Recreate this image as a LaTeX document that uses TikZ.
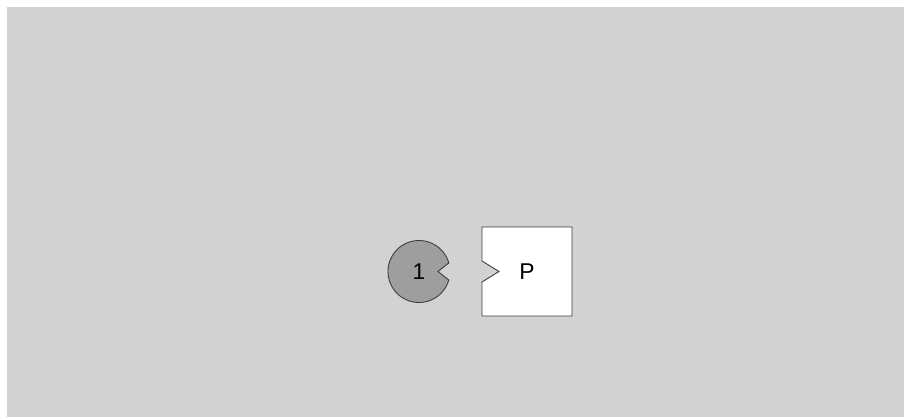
\documentclass[tikz,border=0pt]{standalone}
\usepackage{fontspec}
\setmainfont{Liberation Sans}
\definecolor{bgGray}{RGB}{210,210,210}
\definecolor{pieGray}{RGB}{158,158,158}
\definecolor{edgeGray}{RGB}{60,60,60}
\begin{document}
\begin{tikzpicture}[scale=1.0]
    \useasboundingbox (0,0) rectangle (18.08,8.34);
    % Background
    \fill[bgGray] (0.14,0) rectangle (18.08,8.2);

    % Notched circle
    \draw[edgeGray, fill=pieGray, line width=0.5pt] (8.38,2.91) ++(16:0.62) arc (16:344:0.62) -- (8.76,2.91) -- cycle;
    \node[font=\fontsize{13}{15}\selectfont] (one) at (8.38,2.91) {1};

    % Notched square
    \draw[edgeGray, fill=white, line width=0.5pt] (9.64,3.80) -- (11.44,3.80) -- (11.44,2.02) -- (9.64,2.02)
        -- (9.64,2.70) -- (9.98,2.91) -- (9.64,3.12) -- cycle;
    \node[font=\fontsize{13}{15}\selectfont] (pee) at (10.54,2.91) {P};
\end{tikzpicture}
\end{document}
